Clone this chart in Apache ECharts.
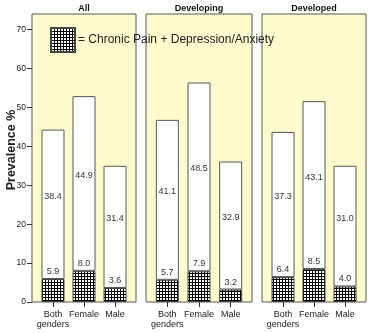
<!DOCTYPE html>
<html>
<head>
<meta charset="utf-8">
<script src="https://cdn.jsdelivr.net/npm/echarts@6/dist/echarts.min.js"></script>
<style>
  html, body { margin: 0; padding: 0; background: #fff; }
  #chart { width: 375px; height: 333px; }
</style>
</head>
<body>
<div id="chart"></div>
<script>
// Prevalence of chronic pain, split into comorbid (pain + depression/anxiety) and pain only
const categories = ['Both\ngenders', 'Female', 'Male'];
const panelNames = ['All', 'Developing', 'Developed'];
const yTicks = [0, 10, 20, 30, 40, 50, 60, 70];

const comorbidAll = [5.9, 8.0, 3.6];
const painOnlyAll = [38.4, 44.9, 31.4];
const comorbidDeveloping = [5.7, 7.9, 3.2];
const painOnlyDeveloping = [41.1, 48.5, 32.9];
const comorbidDeveloped = [6.4, 8.5, 4.0];
const painOnlyDeveloped = [37.3, 43.1, 31.0];

const comorbidSets = [comorbidAll, comorbidDeveloping, comorbidDeveloped];
const painOnlySets = [painOnlyAll, painOnlyDeveloping, painOnlyDeveloped];

const legendLabel = '= Chronic Pain + Depression/Anxiety';

// fine black cross-hatch tile
function hatchTile() {
  const c = document.createElement('canvas');
  c.width = 3; c.height = 3;
  const g = c.getContext('2d');
  g.fillStyle = '#fff'; g.fillRect(0, 0, 3, 3);
  g.fillStyle = '#000';
  g.fillRect(0, 0, 3, 1);
  g.fillRect(0, 0, 1, 3);
  return c;
}
const hatch = { image: hatchTile(), repeat: 'repeat' };

const Y_MAX = 74;
const TOP = 14, BOTTOM = 31;
const frames = [
  { left: 32, width: 104 },
  { left: 146, width: 106 },
  { left: 262, width: 104 }
];
const INSET = 5.5;
const FONT = 'Liberation Sans, Arial, sans-serif';

const grid = [], xAxis = [], yAxis = [], series = [], graphic = [];

frames.forEach((f, i) => {
  // frame with tinted background
  grid.push({
    left: f.left, width: f.width, top: TOP, bottom: BOTTOM,
    outerBoundsMode: 'none', containLabel: false,
    show: true, backgroundColor: '#FFFBCD', borderColor: '#555', borderWidth: 1
  });
  xAxis.push({ gridIndex: i, type: 'value', show: false, min: 0, max: 1 });
  yAxis.push({
    gridIndex: i, type: 'value', min: 0, max: Y_MAX, interval: 10,
    show: i === 0,
    name: i === 0 ? 'Prevalence %' : '',
    nameLocation: 'middle', nameGap: 14, nameRotate: 90, nameMoveOverlap: false,
    nameTextStyle: { fontFamily: FONT, fontWeight: 'bold', fontSize: 12.5, color: '#222', padding: [0, 0, 0, 16] },
    axisLine: { show: false },
    axisTick: { show: true, length: 5, lineStyle: { color: '#333' }, customValues: yTicks },
    axisLabel: { fontFamily: FONT, fontSize: 8.5, color: '#222', margin: 6, customValues: yTicks },
    splitLine: { show: false }
  });
  graphic.push({
    type: 'text', x: f.left + f.width / 2, y: 9,
    style: { text: panelNames[i], fontFamily: FONT, fontWeight: 'bold', fontSize: 9, fill: '#111', align: 'center', verticalAlign: 'middle' }
  });
});

frames.forEach((f, i) => {
  const gi = 3 + i;
  grid.push({
    left: f.left + INSET, width: f.width - 2 * INSET, top: TOP, bottom: BOTTOM,
    outerBoundsMode: 'none', containLabel: false
  });
  xAxis.push({
    gridIndex: gi, type: 'category', data: categories,
    axisLine: { show: false },
    axisTick: { show: true, alignWithLabel: true, length: 5, lineStyle: { color: '#333' } },
    axisLabel: { fontFamily: FONT, fontSize: 9, color: '#222', margin: 7, lineHeight: 10.5, interval: 0 }
  });
  yAxis.push({ gridIndex: gi, type: 'value', min: 0, max: Y_MAX, show: false, splitLine: { show: false } });

  series.push({
    name: 'comorbid', type: 'bar', stack: 'p' + i, xAxisIndex: gi, yAxisIndex: gi,
    data: comorbidSets[i], barWidth: 23,
    itemStyle: { color: hatch, borderColor: '#444', borderWidth: 1 },
    label: {
      show: true, position: 'top', distance: 3,
      fontFamily: FONT, fontSize: 9, color: '#333',
      formatter: p => p.value.toFixed(1)
    }
  });
  series.push({
    name: 'painOnly', type: 'bar', stack: 'p' + i, xAxisIndex: gi, yAxisIndex: gi,
    data: painOnlySets[i], barWidth: 23,
    itemStyle: { color: '#fff', borderColor: '#555', borderWidth: 1 },
    label: {
      show: true, position: 'inside', offset: [0, -8],
      fontFamily: FONT, fontSize: 9, color: '#333',
      formatter: p => p.value.toFixed(1)
    }
  });
});

const chart = echarts.init(document.getElementById('chart'), null, { renderer: 'canvas' });
chart.setOption({
  animation: false,
  backgroundColor: '#fff',
  grid, xAxis, yAxis, series, graphic,
  legend: {
    data: [{ name: 'comorbid', icon: 'rect' }],
    left: 50, top: 27, padding: 0,
    itemWidth: 24, itemHeight: 24, itemGap: 0,
    selectedMode: false,
    formatter: () => legendLabel,
    textStyle: { fontFamily: FONT, fontSize: 12, color: '#222', padding: [0, 0, 0, -2] }
  }
});
</script>
</body>
</html>
